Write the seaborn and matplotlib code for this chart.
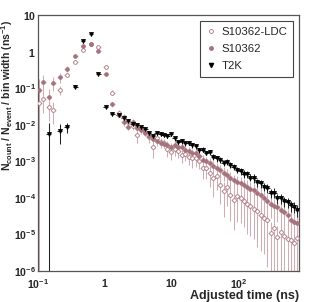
import numpy as np
import pandas as pd
import matplotlib
matplotlib.use('Agg')
import matplotlib.pyplot as plt
import seaborn as sns
from matplotlib.lines import Line2D
from matplotlib.ticker import FixedLocator, FuncFormatter, LogLocator, NullFormatter

# ---- data ----
time_ns = [0.105, 0.12, 0.145, 0.17, 0.21, 0.27, 0.36, 0.47, 0.62, 0.79,
           1.03, 1.3, 1.6, 1.9, 2.2, 2.6, 3.0, 3.5, 4.0, 4.5,
           5.2, 6.0, 6.8, 7.6, 8.6, 9.7, 11, 12.5, 14, 16,
           18, 20, 23, 26, 29, 33, 37, 42, 47, 53,
           60, 67, 75, 85, 95, 107, 120, 135, 150, 170,
           190, 215, 240, 270, 300, 340, 380, 430, 480, 540,
           600, 670, 750]

t2k = [np.nan, np.nan, 0.0055, np.nan, 0.0068, 0.0084, 0.11, 2.0, 3.0, 0.25,
       0.031, 0.020, 0.018, 0.0153, 0.013, 0.0105, 0.0099, 0.0085, 0.0075, 0.006,
       0.0048, 0.0058, 0.0055, 0.0053, 0.0050, 0.0056, 0.0042, 0.0034, 0.0036, 0.0031,
       0.0032, 0.0028, 0.0026, 0.0020, 0.0021, 0.0017, 0.0018, 0.0013, 0.0012, 0.0011,
       0.00092, 0.00098, 0.00080, 0.00072, 0.00058, 0.00054, 0.00046, 0.00045, 0.00036, 0.00035,
       0.00027, 0.00025, 0.00020, 0.00019, 0.00014, 0.00014, 0.00010, 0.0001, 8.2e-5, 7.6e-5,
       6.2e-5, 5.8e-5, 4.6e-5]
t2k_rel = [0, 0, 1.0, 0, 0.55, 0.3, 0.1, 0.05, 0.05, 0.06,
           0.1, 0.1, 0.1, 0.1, 0.1, 0.1, 0.1, 0.1, 0.1, 0.12,
           0.12, 0.12, 0.12, 0.12, 0.12, 0.12, 0.12, 0.15, 0.15, 0.15,
           0.15, 0.15, 0.15, 0.15, 0.15, 0.15, 0.15, 0.18, 0.18, 0.18,
           0.18, 0.18, 0.2, 0.2, 0.2, 0.2, 0.22, 0.22, 0.22, 0.25,
           0.25, 0.25, 0.25, 0.28, 0.28, 0.3, 0.3, 0.3, 0.32, 0.32,
           0.35, 0.35, 0.35]

s10362 = [0.09, 0.15, 0.058, 0.14, 0.20, 0.34, 0.78, 1.45, 1.65, 1.05,
          0.24, 0.037, 0.019, 0.0115, 0.0087, 0.012, 0.0082, 0.0072, 0.0060, 0.0049,
          0.0040, 0.0036, 0.0032, 0.0030, 0.0028, 0.0025, 0.0028, 0.0025, 0.0024, 0.0020,
          0.0019, 0.0017, 0.0017, 0.0014, 0.0011, 0.0010, 0.0009, 0.00075, 0.00066, 0.00058,
          0.00049, 0.00042, 0.00035, 0.00030, 0.00028, 0.00026, 0.00023, 0.00020, 0.00018, 0.00016,
          0.00014, 0.00012, 0.00010, 8e-5, 7e-5, 6e-5, 5.5e-5, 4.8e-5, 4e-5, 3.5e-5,
          2.5e-5, 2.2e-5, 2.0e-5]
s10362_rel = [1.0, 0.5, 0.6, 0.4, 0.3, 0.2, 0.1, 0.08, 0.08, 0.08,
              0.1, 0.15, 0.15, 0.2, 0.2, 0.2, 0.2, 0.2, 0.2, 0.22,
              0.22, 0.25, 0.25, 0.25, 0.25, 0.25, 0.28, 0.28, 0.28, 0.3,
              0.3, 0.3, 0.3, 0.32, 0.35, 0.35, 0.35, 0.38, 0.4, 0.4,
              0.4, 0.42, 0.45, 0.45, 0.45, 0.45, 0.45, 0.5, 0.5, 0.5,
              0.5, 0.55, 0.55, 0.55, 0.6, 0.6, 0.6, 0.65, 0.65, 0.65,
              0.7, 0.7, 0.7]

ldc = [0.04, 0.051, 0.031, 0.026, 0.09, 0.23, 0.53, 1.13, 1.65, 1.37,
       0.39, 0.075, 0.021, 0.016, 0.012, 0.0093, 0.0053, 0.0076, 0.0065, 0.0045,
       0.0025, 0.0044, 0.0033, 0.0032, 0.0022, 0.0018, 0.0022, 0.0019, 0.0015, 0.0016,
       0.0013, 0.0012, 0.0012, 0.0010, 0.00066, 0.00066, 0.00048, 0.00035, 0.00040, 0.00022,
       0.00015, 0.00020, 0.00012, 9e-5, 0.00011, 0.00010, 8e-5, 7e-5, 6e-5, 5e-5,
       4.5e-5, 3.5e-5, 2.9e-5, 2.5e-5, 1.1e-5, 1.5e-5, 8.6e-6, 1.2e-5, 9e-6, 7.5e-6,
       6.9e-6, 6e-6, 8e-6]
ldc_rel = [0.8, 0.6, 0.6, 0.6, 0.3, 0.15, 0.1, 0.08, 0.08, 0.08,
           0.1, 0.15, 0.2, 0.2, 0.2, 0.25, 0.4, 0.25, 0.25, 0.3,
           0.5, 0.3, 0.3, 0.3, 0.4, 0.4, 0.35, 0.35, 0.4, 0.35,
           0.4, 0.45, 0.4, 0.4, 0.5, 0.5, 0.6, 0.7, 0.6, 0.7,
           0.8, 0.7, 0.8, 0.85, 0.8, 0.8, 0.8, 0.85, 0.85, 0.85,
           0.9, 0.9, 0.9, 0.95, 1.0, 0.95, 1.0, 1.0, 1.0, 1.0,
           1.0, 1.0, 1.0]

PINK = '#a5727c'
PINK_ERR = '#cfadb3'

df = pd.DataFrame({
    'time': time_ns * 3,
    'value': ldc + s10362 + t2k,
    'rel': ldc_rel + s10362_rel + t2k_rel,
    'sensor': ['S10362-LDC'] * len(time_ns) + ['S10362'] * len(time_ns) + ['T2K'] * len(time_ns),
}).dropna()

# ---- style ----
sns.set_style('white')
plt.rcParams.update({
    'font.family': ['Liberation Sans', 'DejaVu Sans'],
    'mathtext.fontset': 'custom',
    'mathtext.rm': 'Liberation Sans:bold',
    'mathtext.bf': 'Liberation Sans:bold',
    'mathtext.it': 'Liberation Sans:bold',
    'mathtext.default': 'bf',
})

fig = plt.figure(figsize=(3.15, 3.02), dpi=100)
ax = fig.add_axes([38 / 315, 1 - 271 / 302, 261 / 315, 256 / 302])

styles = {
    'S10362-LDC': dict(marker='o', color=PINK, facecolor='white', ecol=PINK_ERR, s=7),
    'S10362': dict(marker='o', color=PINK, facecolor=PINK, ecol=PINK_ERR, s=7),
    'T2K': dict(marker='v', color='black', facecolor='black', ecol='#222222', s=8),
}

for name in ['S10362-LDC', 'S10362', 'T2K']:
    d = df[df['sensor'] == name]
    st = styles[name]
    ax.errorbar(d['time'], d['value'],
                xerr=[d['time'] * 0.08, d['time'] * 0.09],
                yerr=[d['value'] * d['rel'], d['value'] * d['rel']],
                fmt='none', ecolor=st['ecol'], elinewidth=0.75, capsize=0, zorder=2)
    sns.scatterplot(x=d['time'], y=d['value'], marker=st['marker'], s=st['s'],
                    color=st['color'], facecolor=st['facecolor'], edgecolor=st['color'],
                    linewidth=0.6, ax=ax, zorder=3, legend=False)

ax.set_xscale('log')
ax.set_yscale('log')
ax.set_xlim(0.1, 800)
ax.set_ylim(1e-6, 10)

# ROOT-like axes
for sp in ax.spines.values():
    sp.set_color('#555555')
    sp.set_linewidth(0.9)
ax.tick_params(which='both', direction='in', top=False, right=False, color='#555555',
               labelsize=7.6)
ax.tick_params(which='major', length=6, width=0.8)
ax.tick_params(which='minor', length=3, width=0.7)
ax.tick_params(axis='y', pad=1.5)
ax.tick_params(axis='x', pad=4.5)

ax.xaxis.set_major_locator(FixedLocator([0.1, 1, 10, 100]))
ax.xaxis.set_minor_locator(LogLocator(base=10, subs=np.arange(2, 10)))
ax.xaxis.set_minor_formatter(NullFormatter())
xlab = {0.1: '$10^{-1}$', 1: '$1$', 10: '$10$', 100: '$10^{2}$'}
ax.xaxis.set_major_formatter(FuncFormatter(lambda v, p: xlab.get(round(v, 3), '')))

ax.yaxis.set_major_locator(FixedLocator([1e-6, 1e-5, 1e-4, 1e-3, 1e-2, 1e-1, 1, 10]))
ax.yaxis.set_minor_locator(LogLocator(base=10, subs=np.arange(2, 10)))
ax.yaxis.set_minor_formatter(NullFormatter())


def ylab_fmt(v, p):
    e = int(round(np.log10(v)))
    if e == 0:
        return '$1$'
    if e == 1:
        return '$10$'
    return '$10^{%d}$' % e


ax.yaxis.set_major_formatter(FuncFormatter(ylab_fmt))

ax.set_ylabel(r'$N_{count}$ / $N_{event}$ / bin width (ns$^{-1}$)',
              fontsize=7.6, fontweight='bold', ha='right', va='center')
ax.yaxis.set_label_coords(-0.119, 0.98)
ax.set_xlabel('Adjusted time (ns)', fontsize=9, fontweight='bold', ha='right', va='top')
ax.xaxis.set_label_coords(1.0, -0.074)

handles = [
    Line2D([], [], ls='none', marker='o', ms=2.8, mfc='white', mec=PINK, mew=0.6),
    Line2D([], [], ls='none', marker='o', ms=2.8, mfc=PINK, mec=PINK, mew=0.6),
    Line2D([], [], ls='none', marker='v', ms=3.0, mfc='black', mec='black'),
]
leg = ax.legend(handles, ['S10362-LDC', 'S10362', 'T2K'], loc='upper right',
                bbox_to_anchor=(0.977, 0.977), borderaxespad=0, fontsize=8.2,
                frameon=True, fancybox=False, framealpha=1, edgecolor='#444444',
                handlelength=0.9, handletextpad=0.5, labelspacing=0.65,
                borderpad=0.5)
leg.get_frame().set_linewidth(0.8)

fig.savefig('out.png', dpi=100)
